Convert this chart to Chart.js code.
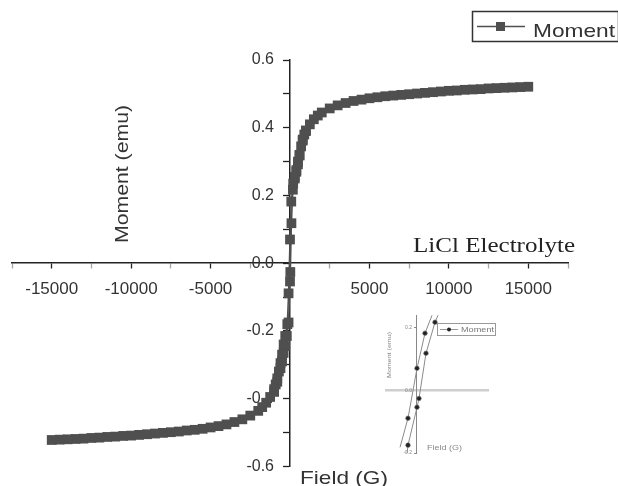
<!DOCTYPE html>
<html><head><meta charset="utf-8">
<script src="https://cdn.jsdelivr.net/npm/chart.js@4.4.1/dist/chart.umd.min.js"></script>
<style>
html,body{margin:0;padding:0;background:#fff;overflow:hidden}
#wrap{position:relative;width:618px;height:486px}
#main{position:absolute;left:0;top:0}
#inset{position:absolute;left:385px;top:300px;filter:blur(0.5px)}
</style></head><body>
<div id="wrap"><canvas id="main" width="618" height="486"></canvas><canvas id="inset" width="120" height="165"></canvas></div>
<script>
// ---- main loop, descending branch (field in G, moment in emu)
const descFieldG = [15000,14500,14000,13500,13000,12500,12000,11500,11000,10500,10000,9500,9000,8500,8000,7500,7000,6500,6000,5500,5000,4500,4000,3500,3000,2500,2000,1750,1500,1250,1000,900,800,700,600,500,400,300,200,80,0,-90,-170,-300,-400,-500,-600,-700,-800,-900,-1000,-1250,-1500,-1750,-2000,-2500,-3000,-3500,-4000,-4500,-5000,-5500,-6000,-6500,-7000,-7500,-8000,-8500,-9000,-9500,-10000,-10500,-11000,-11500,-12000,-12500,-13000,-13500,-14000,-14500,-15000];
const descMoment = [0.521,0.520,0.519,0.518,0.517,0.516,0.514,0.513,0.512,0.510,0.509,0.507,0.505,0.503,0.501,0.499,0.497,0.495,0.493,0.490,0.487,0.483,0.479,0.473,0.466,0.457,0.445,0.436,0.425,0.410,0.392,0.380,0.365,0.345,0.320,0.300,0.275,0.255,0.235,0.182,0.070,-0.089,-0.180,-0.215,-0.240,-0.270,-0.295,-0.320,-0.340,-0.358,-0.372,-0.395,-0.412,-0.425,-0.436,-0.450,-0.461,-0.469,-0.476,-0.481,-0.485,-0.489,-0.492,-0.494,-0.497,-0.499,-0.501,-0.503,-0.505,-0.507,-0.509,-0.510,-0.512,-0.513,-0.515,-0.516,-0.518,-0.519,-0.520,-0.521,-0.522];
// ---- main loop, ascending branch near zero field
const ascFieldG = [-1000,-800,-600,-500,-400,-300,-200,-90,0,20,90,180,300,400,500,600,800,1000];
const ascMoment = [-0.380,-0.350,-0.310,-0.290,-0.265,-0.245,-0.215,-0.175,-0.054,-0.026,0.118,0.217,0.250,0.270,0.292,0.318,0.362,0.390];
// ---- inset (zoom of the loop around zero field)
const insetLeftFieldG = [150,80,0,-90,-170];
const insetLeftMoment = [0.239,0.182,0.070,-0.089,-0.182];
const insetRightFieldG = [210,180,90,20,0,-90,-100];
const insetRightMoment = [0.239,0.217,0.118,-0.026,-0.054,-0.175,-0.201];
// ---- tick labels
const xMajorTicks = [-15000,-10000,-5000,5000,10000,15000];
const yMajorTicks = [-0.6,-0.4,-0.2,0.0,0.2,0.4,0.6];
const insetYTicks = [-0.2,0.0,0.2];

const toXY = (xs, ys) => xs.map((x,i)=>({x:x, y:ys[i]}));
const SANS = '"Liberation Sans", Arial, sans-serif';
const SERIF = '"Liberation Serif", "Times New Roman", serif';
const GRAY = '#4f4f4f';
const GAP = '\u2002\u2002';

function fitText(ctx, text, x, y, font, width, color, rot){
  ctx.save();
  ctx.font = font; ctx.fillStyle = color; ctx.textBaseline = 'alphabetic'; ctx.textAlign = 'left';
  const w = ctx.measureText(text).width;
  ctx.translate(x, y);
  if (rot) ctx.rotate(rot);
  ctx.scale(width / w, 1);
  ctx.fillText(text, 0, 0);
  ctx.restore();
}

const isMajorX = v => xMajorTicks.some(t => Math.abs(t - v) < 1);
const isMajorY = v => yMajorTicks.some(t => Math.abs(t - v) < 1e-6);

const decor = {
  id: 'decor',
  afterDraw(chart){
    const ctx = chart.ctx;
    // legend
    ctx.save();
    ctx.strokeStyle = '#333'; ctx.lineWidth = 1.5;
    ctx.strokeRect(472.5, 11.5, 146, 30);
    ctx.strokeStyle = GRAY; ctx.lineWidth = 1.3;
    ctx.beginPath(); ctx.moveTo(477, 26.5); ctx.lineTo(525, 26.5); ctx.stroke();
    ctx.fillStyle = GRAY; ctx.fillRect(496, 22, 9, 9);
    ctx.restore();
    fitText(ctx, 'Moment', 533, 37, '19px ' + SANS, 82, '#333', 0);
    // axis titles
    fitText(ctx, 'Moment (emu)', 128, 243, '18px ' + SANS, 138, '#333', -Math.PI/2);
    fitText(ctx, 'Field (G)', 300, 484, '19px ' + SANS, 88, '#333', 0);
    // annotation
    fitText(ctx, 'LiCl Electrolyte', 413, 252, '22px ' + SERIF, 162, '#222', 0);
  }
};

new Chart(document.getElementById('main'), {
  type: 'scatter',
  data: { datasets: [
    { label:'Moment', data: toXY(descFieldG, descMoment), showLine:true, borderColor:GRAY, borderWidth:1.5,
      pointStyle:'rect', pointRadius:6.9, pointBackgroundColor:GRAY, pointBorderColor:GRAY, pointBorderWidth:0, clip:false },
    { label:'Moment', data: toXY(ascFieldG, ascMoment), showLine:true, borderColor:GRAY, borderWidth:1.5,
      pointStyle:'rect', pointRadius:6.9, pointBackgroundColor:GRAY, pointBorderColor:GRAY, pointBorderWidth:0, clip:false }
  ]},
  options: {
    responsive:false, animation:false, devicePixelRatio:1,
    layout:{padding:{left:12, right:50, top:60, bottom:12}},
    plugins:{legend:{display:false}, tooltip:{enabled:false}},
    elements:{line:{tension:0}},
    scales:{
      x:{ type:'linear', min:-17500, max:17500, position:{y:0},
        border:{display:true, color:'#222', width:1.5},
        grid:{drawOnChartArea:false, drawTicks:true, tickLength:5,
              tickColor: c => isMajorX(c.tick.value) ? '#222' : 'rgba(0,0,0,0.35)', tickWidth:1.3},
        ticks:{stepSize:2500, autoSkip:false, maxRotation:0, padding:11, color:'#333',
               font:{family:SANS, size:17},
               callback: v => isMajorX(v) ? String(v) : ''}
      },
      y:{ type:'linear', min:-0.6, max:0.6, position:{x:0},
        border:{display:true, color:'#222', width:1.5},
        grid:{drawOnChartArea:false, drawTicks:true, tickLength:6, tickColor:'#222', tickWidth:1.3},
        ticks:{stepSize:0.1, autoSkip:false, padding:10, color:'#333',
               font:{family:SANS, size:16},
               callback: v => isMajorY(v) ? (Math.round(v*10)/10).toFixed(1) + GAP : ''}
      }
    }
  },
  plugins:[decor]
});

// ---- inset chart
const insetDecor = {
  id:'insetDecor',
  afterDraw(chart){
    const ctx = chart.ctx;
    ctx.save();
    ctx.strokeStyle = '#999'; ctx.lineWidth = 1;
    ctx.strokeRect(52.5, 23.5, 58, 12);
    ctx.beginPath(); ctx.moveTo(55, 29.5); ctx.lineTo(73, 29.5); ctx.stroke();
    ctx.fillStyle = '#222'; ctx.beginPath(); ctx.arc(64, 29.5, 2, 0, Math.PI*2); ctx.fill();
    ctx.restore();
    fitText(ctx, 'Moment', 76, 32, '7px ' + SANS, 33, '#777', 0);
    fitText(ctx, 'Field (G)', 42, 150, '7px ' + SANS, 35, '#888', 0);
    fitText(ctx, 'Moment (emu)', 6, 78, '6px ' + SANS, 46, '#888', -Math.PI/2);
  }
};
new Chart(document.getElementById('inset'), {
  type:'scatter',
  data:{ datasets:[
    { data: toXY(insetLeftFieldG, insetLeftMoment), showLine:true, borderColor:'#8a8a8a', borderWidth:1,
      pointRadius:[0,2.3,2.3,2.3,0], pointBackgroundColor:'#222', pointBorderColor:'#777', pointBorderWidth:0.6 },
    { data: toXY(insetRightFieldG, insetRightMoment), showLine:true, borderColor:'#8a8a8a', borderWidth:1,
      pointRadius:[0,2.3,2.3,2.3,2.3,2.3,0], pointBackgroundColor:'#222', pointBorderColor:'#777', pointBorderWidth:0.6 }
  ]},
  options:{
    responsive:false, animation:false, devicePixelRatio:1,
    layout:{padding:{left:0, right:17, top:15, bottom:12}},
    plugins:{legend:{display:false}, tooltip:{enabled:false}},
    scales:{
      x:{ type:'linear', min:-320, max:710, position:{y:0},
          border:{display:true, color:'#cfcfcf', width:2.5},
          grid:{display:false}, ticks:{display:false} },
      y:{ type:'linear', min:-0.2, max:0.24, position:{x:0},
          border:{display:true, color:'#888', width:1},
          grid:{drawOnChartArea:false, drawTicks:true, tickLength:2, tickColor:'#888'},
          ticks:{stepSize:0.2, autoSkip:false, includeBounds:false, padding:4, color:'#888',
                 font:{family:SANS, size:5},
                 callback: v => insetYTicks.some(t=>Math.abs(t-v)<1e-6) ? (Math.round(v*10)/10).toFixed(1) + '\u2002\u2002' : ''} }
    }
  },
  plugins:[insetDecor]
});
</script>
</body></html>
